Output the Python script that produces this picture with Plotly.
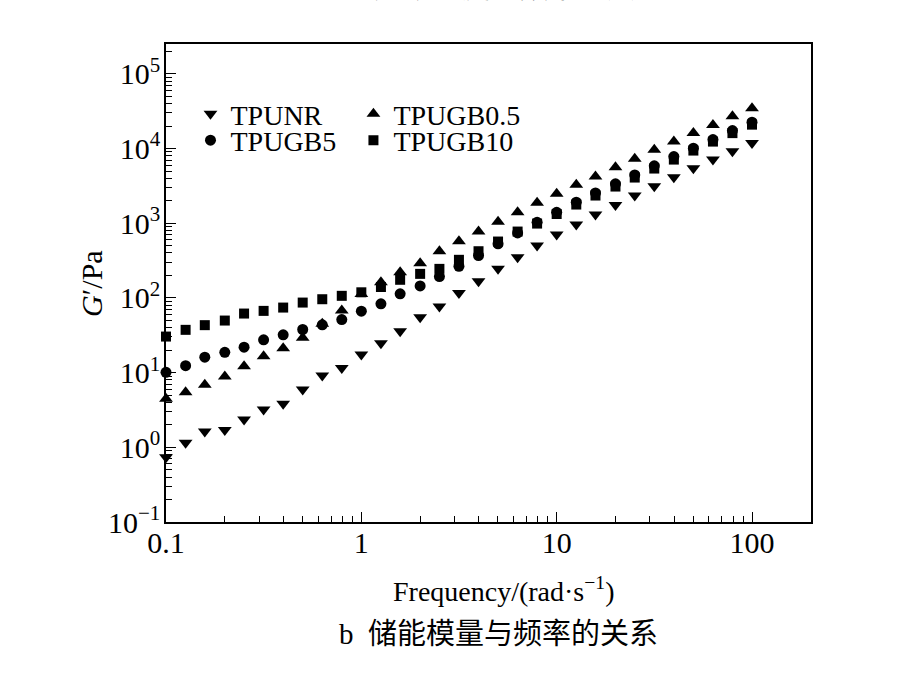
import plotly.graph_objects as go

# ---------------- data ----------------
freq = [0.1, 0.126, 0.158, 0.2, 0.251, 0.316, 0.398, 0.501, 0.631, 0.794,
        1.0, 1.26, 1.58, 2.0, 2.51, 3.16, 3.98, 5.01, 6.31, 7.94,
        10.0, 12.6, 15.8, 20.0, 25.1, 31.6, 39.8, 50.1, 63.1, 79.4, 100.0]

tpunr = [0.736, 1.15, 1.63, 1.71, 2.35, 3.2, 3.82, 5.94, 9.14, 11.5,
         17.5, 24.7, 35.8, 55, 77, 116, 167, 245, 351, 502,
         706, 961, 1307, 1762, 2350, 3130, 4130, 5450, 7120, 9200, 11900]

tpugb05 = [4.46, 5.47, 6.87, 8.87, 12.2, 16.6, 21.2, 29.2, 45, 67.7,
           113, 162, 221, 292, 422, 574, 774, 1045, 1403, 1875,
           2475, 3267, 4220, 5620, 7280, 9610, 12400, 16200, 20700, 27000, 34600]

tpugb5 = [10.1, 12.4, 16.1, 18.7, 21.9, 27.5, 32.1, 37.8, 43.6, 51.4,
          66.4, 83.4, 113.5, 145, 193, 265, 370, 530, 743, 1030,
          1403, 1910, 2550, 3370, 4440, 5870, 7810, 10100, 13200, 17400, 22500]

tpugb10 = [30.4, 37.4, 43.2, 49.8, 61.8, 67.1, 74.3, 86.7, 96.1, 106.7,
           119, 140, 175, 210, 245, 324, 422, 569, 774, 990,
           1330, 1780, 2350, 3100, 4090, 5400, 7120, 9400, 12400, 16100, 20900]

x_tickvals = [0.1, 1, 10, 100]
x_ticktext = ["0.1", "1", "10", "100"]
y_tickvals = [0.1, 1, 10, 100, 1000, 10000, 100000]
y_ticktext = ["10<sup>\u22121</sup>", "10<sup>0</sup>", "10<sup>1</sup>", "10<sup>2</sup>",
              "10<sup>3</sup>", "10<sup>4</sup>", "10<sup>5</sup>"]
x_minor = [m * d for d in (0.1, 1, 10) for m in range(2, 10)]
y_minor = [m * d for d in (0.1, 1, 10, 100, 1000, 10000, 100000) for m in range(2, 10)]

SERIF = "Liberation Serif, Times New Roman, serif"
CJK = "Liberation Serif, Noto Sans CJK SC, serif"

# ---------------- figure ----------------
fig = go.Figure()

series = [
    ("TPUNR", tpunr, "triangle-down", 12, "legend"),
    ("TPUGB0.5", tpugb05, "triangle-up", 12, "legend2"),
    ("TPUGB5", tpugb5, "circle", 11, "legend3"),
    ("TPUGB10", tpugb10, "square", 10, "legend4"),
]
for name, vals, sym, sz, lg in series:
    fig.add_trace(go.Scatter(
        x=freq, y=vals, mode="markers", name=name, legend=lg,
        marker=dict(symbol=sym, size=sz, color="black", line=dict(width=0)),
        cliponaxis=False,
    ))

W, H = 918, 674
ml, mr, mt, mb = 165.5, 107.3, 43.5, 152.3
pw = W - ml - mr
ph = H - mt - mb


def px_x(x):
    return (x - ml) / pw


def px_y(y):
    return (H - mb - y) / ph


axis_common = dict(
    type="log", showgrid=False, zeroline=False,
    showline=True, linecolor="black", linewidth=1.5, mirror=True,
    ticks="inside", ticklen=10, tickwidth=1.3, tickcolor="black",
    tickfont=dict(family=SERIF, size=30, color="black"),
)

fig.update_xaxes(
    **axis_common, range=[-1, 2.302], tickmode="array",
    tickvals=x_tickvals, ticktext=x_ticktext, ticklabelstandoff=-7,
    minor=dict(tickmode="array", tickvals=x_minor, ticks="inside",
               ticklen=6, tickwidth=1.2, tickcolor="black", showgrid=False),
)
fig.update_yaxes(
    **axis_common, range=[-1, 5.4], tickmode="array",
    tickvals=y_tickvals, ticktext=y_ticktext, ticklabelstandoff=-2,
    minor=dict(tickmode="array", tickvals=y_minor, ticks="inside",
               ticklen=6, tickwidth=1.2, tickcolor="black", showgrid=False),
)

legend_common = dict(
    orientation="v", xanchor="left", yanchor="middle",
    bgcolor="rgba(0,0,0,0)", borderwidth=0,
    font=dict(family=SERIF, size=28, color="black"),
    itemwidth=30,
)

fig.update_layout(
    width=W, height=H,
    margin=dict(l=ml, r=mr, t=mt, b=mb, pad=0),
    paper_bgcolor="white", plot_bgcolor="white",
    showlegend=True,
    legend=dict(**legend_common, x=px_x(190), y=px_y(113.5)),
    legend2=dict(**legend_common, x=px_x(353), y=px_y(113.5)),
    legend3=dict(**legend_common, x=px_x(190), y=px_y(140)),
    legend4=dict(**legend_common, x=px_x(353), y=px_y(140)),
    annotations=[
        dict(text="Frequency/(rad\u00b7s<sup>\u22121</sup>)", xref="paper", yref="paper",
             x=px_x(503), y=px_y(589), xanchor="center", yanchor="middle",
             showarrow=False, font=dict(family=SERIF, size=28, color="black")),
        dict(text="<i>G</i>\u2032/Pa", xref="paper", yref="paper",
             x=px_x(91), y=px_y(283), xanchor="center", yanchor="middle",
             textangle=-90, showarrow=False,
             font=dict(family=SERIF, size=30, color="black")),
        dict(text="b  储能模量与频率的关系", xref="paper", yref="paper",
             x=px_x(498), y=px_y(634), xanchor="center", yanchor="middle",
             showarrow=False, font=dict(family=CJK, size=29, color="black")),
        dict(text="a  复数黏度与频率的关系", xref="paper", yref="paper",
             x=px_x(505), y=px_y(5), xanchor="center", yanchor="bottom",
             showarrow=False, font=dict(family=CJK, size=29, color="black")),
    ],
)

fig.write_html("out.html")
